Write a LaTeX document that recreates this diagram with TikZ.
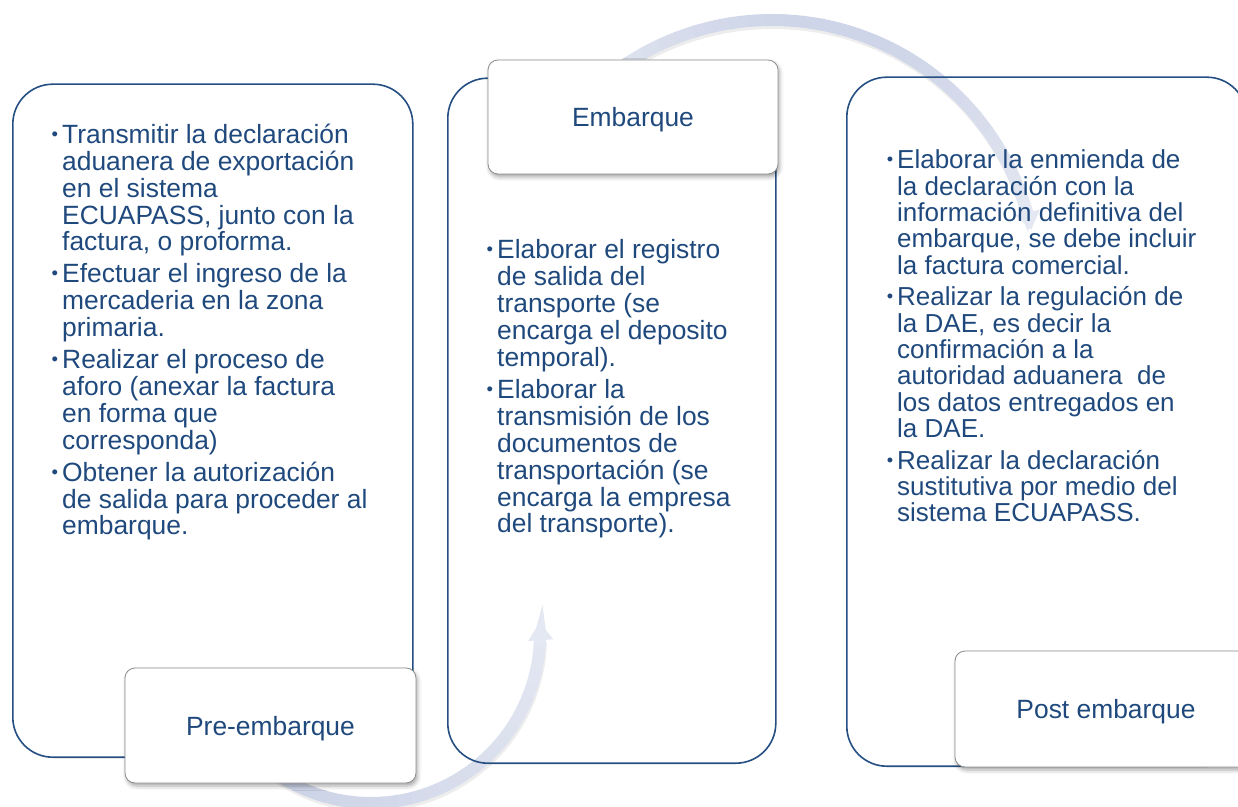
\documentclass[tikz,border=0pt]{standalone}
\usepackage{fontspec}
\setmainfont{Liberation Sans}
\usepackage{graphicx}
\usetikzlibrary{arrows.meta,shadows.blur}
\definecolor{tblue}{RGB}{31,73,125}
\definecolor{bblue}{RGB}{37,79,130}
\definecolor{ringdark}{RGB}{198,206,228}
\definecolor{ringlight}{RGB}{236,239,246}
\definecolor{lblgray}{RGB}{140,140,140}
\newcommand{\bul}{\llap{\raisebox{0.12em}{\scalebox{0.7}{\textbullet}}\hspace{4pt}}}
\newcommand{\lowr}[1]{\raisebox{-3pt}[\height][\depth]{#1}}
\begin{document}
\begin{tikzpicture}[x=1pt,y=1pt,
 bigbox/.style={draw=bblue, line width=1.6pt, rounded corners=40pt, anchor=south west, inner sep=0pt},
 lbl/.style={draw=lblgray, line width=0.8pt, fill=white, rounded corners=10pt, text=tblue,
   font=\fontsize{26.4pt}{27pt}\selectfont,
   blur shadow={shadow xshift=1.5pt, shadow yshift=-3pt, shadow blur radius=4pt, shadow opacity=35}},
 txt/.style={text=tblue, font=\fontsize{26.4pt}{26.9pt}\selectfont, align=left, inner sep=0pt, anchor=base west},
 ringshadow/.style={line width=12pt, black, opacity=0.07},
 ringband/.style={line width=12pt}
]
\useasboundingbox (0,0) rectangle (1238,806);
\clip (0,0) rectangle (1238,806);
% ring 1 (pre-embarque -> embarque)
\coordinate (c1) at (371,172);
\draw[ringshadow] ([shift={(-150:169)}]372,169) arc[start angle=-150, end angle=-2, radius=169];
\foreach \i in {0,...,29}{
  \pgfmathsetmacro\a{-150+\i*148/30}
  \pgfmathsetmacro\b{\a+148/30+0.4}
  \pgfmathsetmacro\m{100-\i*2.6}
  \draw[ringband, color=ringdark!\m!ringlight] ([shift={(\a:169)}]c1) arc[start angle=\a, end angle=\b, radius=169];
}
\draw[ringband, color=ringdark!22!ringlight, -{Triangle[width=24pt,length=18pt]}] ([shift={(-4:169)}]c1) arc[start angle=-4, end angle=4, radius=169];
% ring 2 (embarque -> post embarque)
\coordinate (c2) at (772,521);
\draw[ringshadow] ([shift={(135:265)}]773,518) arc[start angle=135, end angle=16, radius=265];
\foreach \i in {0,...,29}{
  \pgfmathsetmacro\a{135-\i*119/30}
  \pgfmathsetmacro\b{\a-119/30-0.4}
  \pgfmathsetmacro\m{25+55*sin(180*\i/29)}
  \draw[ringband, color=ringdark!\m!ringlight] ([shift={(\a:265)}]c2) arc[start angle=\a, end angle=\b, radius=265];
}
\draw[ringband, color=ringdark!20!ringlight, -{Triangle[width=24pt,length=18pt]}] ([shift={(19:265)}]c2) arc[start angle=19, end angle=12, radius=265];
% big boxes
\node[bigbox, minimum width=400pt, minimum height=673pt] (b1) at (12,48) {};
\node[bigbox, minimum width=328pt, minimum height=685pt] (b2) at (447,42) {};
\node[bigbox, minimum width=400pt, minimum height=689pt] (b3) at (846,39) {};
% texts (anchor at baseline of last line)
\node[txt] (t1) at (62,271) {\bul Transmitir la declaración\\
aduanera de exportación\\
en el sistema\\
ECUAPASS, junto con la\\
factura, o proforma.\\[5pt]
\bul Efectuar el ingreso de la\\
mercaderia en la zona\\
primaria.\\[5pt]
\bul Realizar el proceso de\\
aforo (anexar la factura\\
en forma que\\
corresponda)\\[5pt]
\bul Obtener la autorización\\
de salida para proceder al\\
embarque.};
\node[txt] (t2) at (497,273) {\bul Elaborar el registro\\
de salida del\\
transporte (se\\
encarga el deposito\\
temporal).\\[5pt]
\bul Elaborar la\\
transmisión de los\\
documentos de\\
transportación (se\\
encarga la empresa\\
del transporte).};
\node[txt, font=\fontsize{26pt}{26.4pt}\selectfont] (t3) at (897,284) {\bul Elaborar la enmienda de\\
la declaración con la\\
información definitiva del\\
embarque, se debe incluir\\
la factura comercial.\\[5pt]
\bul Realizar la regulación de\\
la DAE, es decir la\\
confirmación a la\\
autoridad aduanera \ de\\
los datos entregados en\\
la DAE.\\[5pt]
\bul Realizar la declaración\\
sustitutiva por medio del\\
sistema ECUAPASS.};
% labels
\node[lbl, minimum width=291pt, minimum height=115pt] (l1) at (270.5,80.5) {\lowr{Pre-embarque}};
\node[lbl, minimum width=290pt, minimum height=114pt] (l2) at (633,689) {\lowr{Embarque}};
\node[lbl, minimum width=302pt, minimum height=116pt] (l3) at (1106,97) {\lowr{Post embarque}};
\end{tikzpicture}
\end{document}
